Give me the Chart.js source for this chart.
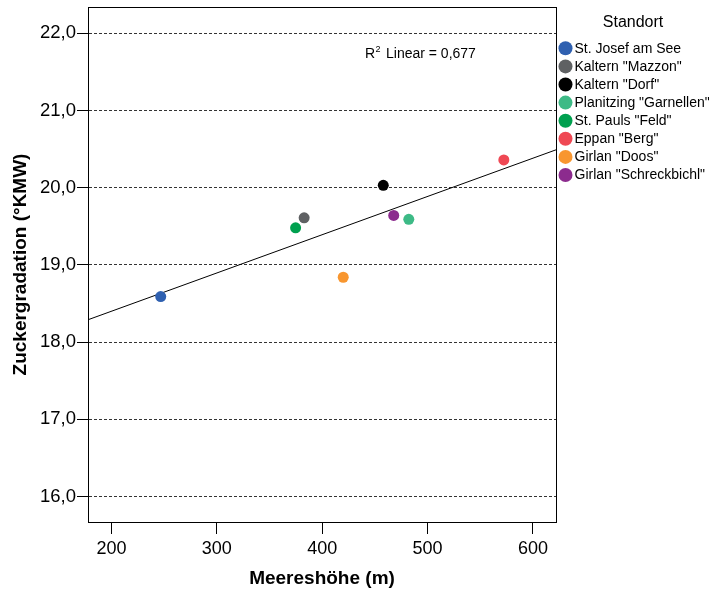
<!DOCTYPE html>
<html><head><meta charset="utf-8">
<script src="https://cdn.jsdelivr.net/npm/chart.js@4/dist/chart.umd.min.js"></script>
<style>html,body{margin:0;padding:0;background:#fff}#wrap{width:709px;height:595px}</style>
</head><body><div id="wrap"><canvas id="c" width="709" height="595"></canvas></div>
<script>
const sites = ['St. Josef am See','Kaltern "Mazzon"','Kaltern "Dorf"','Planitzing "Garnellen"','St. Pauls "Feld"','Eppan "Berg"','Girlan "Doos"','Girlan "Schreckbichl"'];
const elevation = [246.8, 382.9, 458.0, 482.2, 374.8, 572.4, 420.0, 467.9];
const sugar = [18.59, 19.61, 20.03, 19.59, 19.48, 20.36, 18.84, 19.64];
const colors = ['#2f60b0','#5f6163','#000000','#3dba86','#00a04f','#ef4854','#f8962f','#8c2b8e'];
const xTicks = [200, 300, 400, 500, 600];
const yTicks = [16, 17, 18, 19, 20, 21, 22];
const xRange = [177.8, 621.9];
const yRange = [15.67, 22.34];
const legendTitle = 'Standort';
const fitText = 'Linear = 0,677';
const xTitle = 'Meereshöhe (m)';
const yTitle = 'Zuckergradation (°KMW)';

const FONT = "'Liberation Sans', Arial, sans-serif";

// linear regression from the data
const n = elevation.length;
const mx = elevation.reduce((a,b)=>a+b,0)/n;
const my = sugar.reduce((a,b)=>a+b,0)/n;
let sxy=0, sxx=0;
for (let i=0;i<n;i++){ sxy += (elevation[i]-mx)*(sugar[i]-my); sxx += (elevation[i]-mx)**2; }
const slope = sxy/sxx, icpt = my - slope*mx;

const datasets = sites.map((s,i)=>({
  label: s,
  data: [{x: elevation[i], y: sugar[i]}],
  backgroundColor: colors[i],
  borderColor: colors[i],
  borderWidth: 0,
  pointRadius: 5.5,
  pointHoverRadius: 5.5
}));
datasets.push({
  label: 'fit',
  type: 'line',
  data: xRange.map(x=>({x, y: icpt + slope*x})),
  borderColor: '#000',
  borderWidth: 1,
  pointRadius: 0,
  fill: false,
  showLine: true
});

const overlay = {
  id: 'overlay',
  afterDraw(chart) {
    const ctx = chart.ctx, ca = chart.chartArea;
    ctx.save();
    ctx.strokeStyle = '#000';
    ctx.lineWidth = 1;
    ctx.strokeRect(Math.round(ca.left)+0.5, Math.round(ca.top)+0.5, Math.round(ca.right-ca.left), Math.round(ca.bottom-ca.top));
    // R² label
    ctx.fillStyle = '#000';
    ctx.textBaseline = 'alphabetic';
    ctx.textAlign = 'left';
    ctx.font = '14px ' + FONT;
    ctx.fillText('R', 365, 58);
    ctx.font = '9px ' + FONT;
    ctx.fillText('2', 375.5, 52);
    ctx.font = '14px ' + FONT;
    ctx.fillText(fitText, 386, 58);
    // legend
    ctx.font = '16px ' + FONT;
    ctx.textAlign = 'center';
    ctx.textBaseline = 'middle';
    ctx.fillText(legendTitle, 633, 23);
    ctx.font = '14px ' + FONT;
    ctx.textAlign = 'left';
    sites.forEach((s,i)=>{
      const y = 48.3 + i*18.1;
      ctx.beginPath();
      ctx.fillStyle = colors[i];
      ctx.arc(565.5, y, 7, 0, Math.PI*2);
      ctx.fill();
      ctx.fillStyle = '#000';
      ctx.fillText(s, 574.5, y+0.5);
    });
    ctx.restore();
  }
};

new Chart(document.getElementById('c'), {
  type: 'scatter',
  data: { datasets },
  plugins: [overlay],
  options: {
    responsive: false,
    animation: false,
    devicePixelRatio: 1,
    layout: { padding: { left: 0, right: 153, top: 7, bottom: 0 } },
    plugins: { legend: { display: false }, tooltip: { enabled: false } },
    scales: {
      x: {
        type: 'linear',
        min: xRange[0], max: xRange[1],
        afterBuildTicks(scale){ scale.ticks = xTicks.map(v=>({value:v})); },
        afterFit(scale){ scale.height = 73; scale.paddingLeft = 0; scale.paddingRight = 0; },
        ticks: { color: '#000', font: { family: FONT, size: 18 }, padding: 4, maxRotation: 0, autoSkip: false },
        grid: { drawOnChartArea: false, drawTicks: true, tickLength: 12, color: '#000', tickColor: '#000' },
        border: { display: true, color: '#000', width: 1 },
        title: { display: true, text: xTitle, color: '#000', font: { family: FONT, size: 19, weight: 'bold' }, padding: { top: 0, bottom: 5 } }
      },
      y: {
        type: 'linear',
        min: yRange[0], max: yRange[1],
        afterBuildTicks(scale){ scale.ticks = yTicks.map(v=>({value:v})); },
        afterFit(scale){ scale.width = 88; scale.paddingTop = 0; scale.paddingBottom = 0; },
        ticks: { color: '#000', font: { family: FONT, size: 18.5 }, padding: 1, autoSkip: false,
          callback: v => v.toFixed(1).replace('.', ',') },
        grid: { drawOnChartArea: true, drawTicks: true, tickLength: 11, color: '#333', tickColor: '#000', tickBorderDash: [], lineWidth: 1 },
        border: { display: true, color: '#000', width: 1, dash: [3,2] },
        title: { display: true, text: yTitle, color: '#000', font: { family: FONT, size: 19, weight: 'bold' }, padding: { top: 9, bottom: 0 } }
      }
    }
  }
});
</script>
</body></html>
